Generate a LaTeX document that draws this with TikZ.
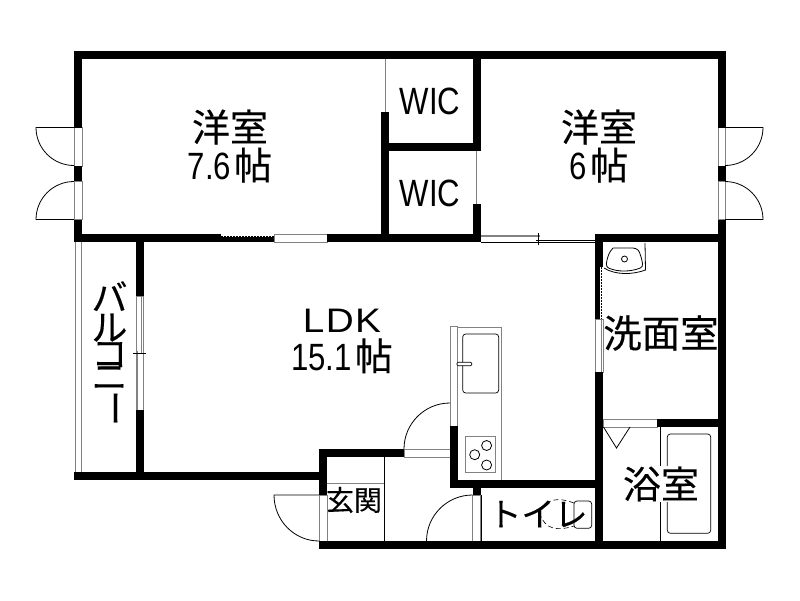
\documentclass[tikz,border=0pt]{standalone}
\usepackage{fontspec}
\setmainfont{Liberation Sans}
\newfontfamily\jpfont[FakeBold=0.3]{Noto Sans CJK JP}
\newfontfamily\digitfont[FakeStretch=0.82]{Liberation Sans}
\newfontfamily\ldkfont[FakeStretch=1.14,LetterSpace=4]{Liberation Sans}
\definecolor{sashgray}{RGB}{130, 130, 130}
\tikzset{
    wall/.style={line width=8pt},
    halfwall/.style={line width=5pt},
    thinline/.style={line width=0.8pt},
    sash/.style={draw=sashgray, line width=1pt, fill=white},
    fixture/.style={line width=0.7pt, rounded corners=3pt},
    roomlabel/.style={font=\fontsize{38}{38}\selectfont, align=center, inner sep=0pt},
}
\begin{document}
\begin{tikzpicture}[x=1pt,y=-1pt,>=stealth]
    \useasboundingbox (0,0) rectangle (800,600);
    % windows and door openings
    \foreach \xa/\ya/\xb/\yb in {74/127.5/82/166, 74/181/82/219.5, 718/127.5/725/166, 718/181/725/219.5, 274/234/327/242, 136/296/143/410, 595/319/603/372, 319/495/327/541, 404/449/450/457, 472.5/495/480.5/541, 603/419/657/427, 450/326/457/426}
        \draw[sash] (\xa,\ya) rectangle (\xb,\yb);
    % walls
    \draw[wall] (78,127.5) -- (78,55) -- (721.5,55) -- (721.5,127.5);
    \draw[wall] (78,166) -- (78,181);
    \draw[wall] (721.5,166) -- (721.5,181);
    \draw[wall] (78,219.5) -- (78,238) -- (221,238);
    \draw[wall] (327,238) -- (481,238);
    \draw[wall] (595,238) -- (721.5,238);
    \draw[wall] (721.5,219.5) -- (721.5,545) -- (319,545);
    \draw[wall] (385,112) -- (385,238);
    \draw[wall] (381,147) -- (476.7,147) -- (476.7,51);
    \draw[wall] (476.7,204) -- (476.7,238);
    \draw[wall] (139.5,238) -- (139.5,296);
    \draw[wall] (139.5,410) -- (139.5,476);
    \draw[wall] (74,476) -- (323.3,476);
    \draw[wall] (323.3,495) -- (323.3,453.3) -- (404,453.3);
    \draw[wall] (599,234) -- (599,267);
    \draw[wall] (599,372) -- (599,549);
    \draw[wall] (453.7,426) -- (453.7,484) -- (603,484);
    \draw[wall] (476.5,487) -- (476.5,495);
    \draw[wall] (657,422.7) -- (721.5,422.7);
    \draw[halfwall] (221,239.5) -- (274,239.5);
    \draw[halfwall] (597.5,267) -- (597.5,319);
    \draw[dash pattern=on 2pt off 1pt, line width=0.8pt] (221,236) -- (274,236);
    \draw[dash pattern=on 2pt off 1pt, line width=0.8pt] (601,267) -- (601,319);
    % sash details
    \draw[sashgray, line width=1.5pt] (141.5,296) -- (141.5,353);
    \draw[sashgray, line width=1.5pt] (137.5,351) -- (137.5,410);
    \draw[thinline] (133,353.5) -- (146,353.5);
    \draw[sashgray, line width=1.5pt] (601.5,319) -- (601.5,372);
    \draw[sashgray, line width=1.5pt] (481,236) -- (540,236);
    \draw[thinline] (481,242.3) -- (595,242.3);
    \draw[thinline] (536,240) -- (595,240);
    \draw[thinline] (538,233) -- (538,245);
    % thin partitions
    \draw[sashgray, thinline] (75.5,242) -- (75.5,472);
    \draw[sashgray, thinline] (81.5,242) -- (81.5,472);
    \draw[sashgray, thinline] (385,59) -- (385,112);
    \draw[sashgray, thinline] (476.7,151) -- (476.7,204);
    \draw[sashgray, thinline] (327,483.3) -- (384.5,483.3);
    \draw[thinline] (384.5,457) -- (384.5,541);
    \draw[thinline] (481,495) -- (481,541);
    \draw[thinline] (660.3,427) -- (660.3,541);
    % doors
    \draw[thinline] (74,127.5) -- (36,127.5) arc (180:90:38 and 38);
    \draw[thinline] (74,219.5) -- (36,219.5) arc (180:270:38 and 38);
    \draw[thinline] (725,127.5) -- (763,127.5) arc (0:90:38 and 38);
    \draw[thinline] (725,219.5) -- (763,219.5) arc (0:-90:38 and 38);
    \draw[thinline] (319,495) -- (274,495) arc (180:90:45 and 46);
    \draw[thinline] (450,403) arc (270:180:46 and 46);
    \draw[thinline] (472.5,495) arc (270:180:46 and 46);
    \draw[thinline] (603.5,427) -- (616.5,448) -- (630,427);
    % kitchen
    \draw[thinline, sashgray] (457,327) -- (501,327) -- (501,480);
    \draw[fixture] (462.7,334) rectangle (498.7,393);
    \draw[fixture, rounded corners=1pt, fill=white] (457,362.3) rectangle (471.7,365.7);
    \draw[sashgray, thinline] (465.7,436.7) rectangle (495.7,472.7);
    \foreach \p in {(486.6,445.5), (474.7,454.7), (486.6,465)}
        \draw[thinline] \p circle (5pt);
    % wash basin
    \draw[thinline] (645,243) -- (645.5,270) .. controls (632,275) and (615,275) .. (604,268);
    \draw[thinline, rounded corners=3pt] (613,248) -- (636,248) .. controls (640,252) and (642,260) .. (643,267) .. controls (630,272) and (618,272) .. (606,267) .. controls (607,258) and (609,252) .. (613,248);
    \draw[thinline] (624.5,259) circle (3pt);
    % bath and toilet
    \draw[fixture] (667.3,434) rectangle (710.7,533.3);
    \draw[fixture] (574,501) rectangle (591.7,528.3);
    \draw[dash pattern=on 5pt off 3pt, line width=0.6pt] (574,503) .. controls (558,497) and (545,498) .. (540,514) .. controls (545,530) and (558,531) .. (574,526);
    % labels
    \node[roomlabel] (room1) at (230,146) {{\jpfont 洋室}\\{\digitfont 7.6}\kern3pt{\jpfont 帖}};
    \node[roomlabel] (room2) at (599,146) {{\jpfont 洋室}\\{\digitfont 6}\kern3pt{\jpfont 帖}};
    \node[roomlabel,font=\fontsize{38}{38}\selectfont\digitfont] (wic1) at (430,101.5) {WIC};
    \node[roomlabel,font=\fontsize{38}{38}\selectfont\digitfont] (wic2) at (430,193.5) {WIC};
    \node[roomlabel] (ldk) at (342,341) {{\fontsize{34}{34}\selectfont\ldkfont LDK}\\{\digitfont 15.1}\kern3pt{\jpfont 帖}};
    \node[roomlabel,font=\fontsize{38.5}{38.5}\selectfont\jpfont] (wash) at (661,333) {洗面室};
    \node[roomlabel,fill=white,inner sep=1pt] (bath) at (661,484) {\jpfont 浴室};
    \node[roomlabel,font=\fontsize{28}{28}\selectfont\jpfont] (entry) at (354,500) {玄関};
    \node[roomlabel,font=\fontsize{33}{33}\selectfont\jpfont] (toilet) at (538,514) {トイレ};
    \node[roomlabel,font=\fontsize{36}{28}\selectfont\jpfont] (balcony) at (109.5,348.5) {バ\\[2pt]ル\\[-2pt]コ\\[-5pt]ニ\\[-2pt]\smash{\rotatebox[origin=c]{-90}{ー}}};
\end{tikzpicture}
\end{document}
